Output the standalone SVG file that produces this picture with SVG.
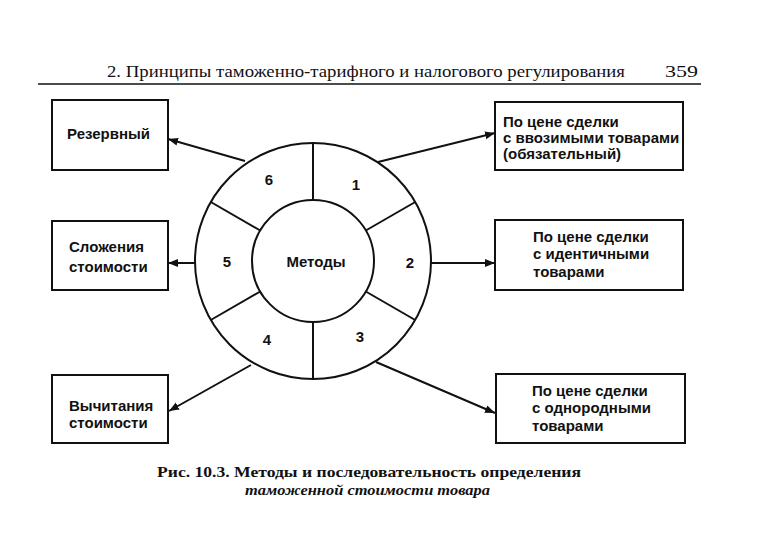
<svg xmlns="http://www.w3.org/2000/svg" width="757" height="556" viewBox="0 0 757 556">
<style>
.hdr{font-family:"Liberation Serif","Times New Roman",serif;font-size:17px;fill:#111}
.cap{font-family:"Liberation Serif","Times New Roman",serif;font-size:15px;font-weight:bold;fill:#111}
.t{font-family:"Liberation Sans",Arial,sans-serif;font-size:15px;font-weight:bold;fill:#111}
.box{fill:#fff;stroke:#111;stroke-width:2}
.ln{fill:none;stroke:#111;stroke-width:2}
.c{fill:none;stroke:#111;stroke-width:2}
</style>
<defs>
<marker id="ah" viewBox="0 0 10 10" refX="10" refY="5" markerWidth="10" markerHeight="10" markerUnits="userSpaceOnUse" orient="auto">
<path d="M0,1 L10,5 L0,9 Z" fill="#111"/>
</marker>
</defs>
<rect width="757" height="556" fill="#fff"/>
<g id="header">
<text class="hdr" x="107" y="77" textLength="518" lengthAdjust="spacingAndGlyphs">2. Принципы таможенно-тарифного и налогового регулирования</text>
<text class="hdr" x="665" y="77" textLength="33" lengthAdjust="spacingAndGlyphs">359</text>
<line x1="38" y1="84" x2="701" y2="84" stroke="#111" stroke-width="1.6"/>
</g>
<g id="wheel">
<circle class="c" cx="313" cy="261" r="118"/>
<circle class="c" cx="313" cy="261" r="61"/>
<line class="ln" x1="313" y1="143" x2="313" y2="200"/>
<line class="ln" x1="313" y1="322" x2="313" y2="379"/>
<line class="ln" x1="365.8" y1="230.5" x2="415.2" y2="202"/>
<line class="ln" x1="365.8" y1="291.5" x2="415.2" y2="320"/>
<line class="ln" x1="260.2" y1="230.5" x2="210.8" y2="202"/>
<line class="ln" x1="260.2" y1="291.5" x2="210.8" y2="320"/>
<text class="t" x="316" y="267" text-anchor="middle">Методы</text>
<text class="t" x="356" y="190" text-anchor="middle">1</text>
<text class="t" x="410" y="268" text-anchor="middle">2</text>
<text class="t" x="360" y="342" text-anchor="middle">3</text>
<text class="t" x="267" y="345" text-anchor="middle">4</text>
<text class="t" x="227" y="267" text-anchor="middle">5</text>
<text class="t" x="269" y="185" text-anchor="middle">6</text>
</g>
<g id="connectors">
<line class="ln" x1="245" y1="161" x2="168" y2="139" marker-end="url(#ah)"/>
<line class="ln" x1="195" y1="263" x2="168" y2="263" marker-end="url(#ah)"/>
<line class="ln" x1="251" y1="365" x2="169" y2="411" marker-end="url(#ah)"/>
<line class="ln" x1="378" y1="162" x2="495" y2="133" marker-end="url(#ah)"/>
<line class="ln" x1="431" y1="263" x2="495" y2="263" marker-end="url(#ah)"/>
<line class="ln" x1="376" y1="362" x2="495" y2="413" marker-end="url(#ah)"/>
</g>
<g id="n-reserve">
<rect class="box" x="52" y="100" width="116" height="70"/>
<text class="t" x="67" y="139">Резервный</text>
</g>
<g id="n-add">
<rect class="box" x="52" y="221" width="116" height="69"/>
<text class="t" x="69" y="252">Сложения</text>
<text class="t" x="69" y="272">стоимости</text>
</g>
<g id="n-sub">
<rect class="box" x="52" y="375" width="116" height="68"/>
<text class="t" x="69" y="411">Вычитания</text>
<text class="t" x="69" y="428">стоимости</text>
</g>
<g id="n-import">
<rect class="box" x="495" y="102" width="188" height="68"/>
<text class="t" x="503" y="127">По цене сделки</text>
<text class="t" x="503" y="143">с ввозимыми товарами</text>
<text class="t" x="503" y="159">(обязательный)</text>
</g>
<g id="n-ident">
<rect class="box" x="495" y="220" width="188" height="70"/>
<text class="t" x="533" y="242">По цене сделки</text>
<text class="t" x="533" y="259">с идентичными</text>
<text class="t" x="533" y="277">товарами</text>
</g>
<g id="n-homog">
<rect class="box" x="496" y="374" width="189" height="69"/>
<text class="t" x="532" y="396">По цене сделки</text>
<text class="t" x="532" y="413">с однородными</text>
<text class="t" x="532" y="431">товарами</text>
</g>
<g id="caption">
<text class="cap" x="157" y="477" textLength="424" lengthAdjust="spacingAndGlyphs">Рис. 10.3. Методы и последовательность определения</text>
<text class="cap" x="245" y="495" font-style="italic" textLength="245" lengthAdjust="spacingAndGlyphs">таможенной стоимости товара</text>
</g>
</svg>
